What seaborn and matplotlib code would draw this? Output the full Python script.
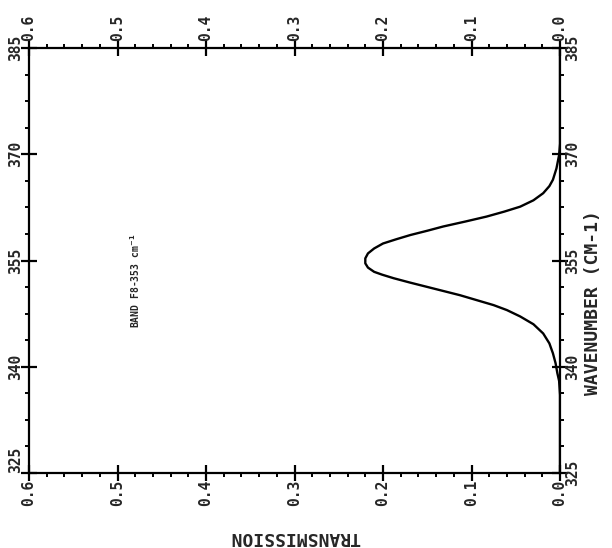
import matplotlib
matplotlib.use("Agg")
import matplotlib.pyplot as plt
from matplotlib.ticker import AutoMinorLocator, FormatStrFormatter
import seaborn as sns
import pandas as pd

# band profile (wavenumber in cm-1, transmission)
wavenumber = [325.0, 336.0, 338.0, 339.1, 340.5, 341.9, 343.3, 344.7, 346.0, 347.1,
              348.0, 348.7, 349.4, 350.1, 350.7, 351.3, 351.9, 352.5, 353.0, 353.4,
              354.0, 354.6, 355.3, 356.0, 356.7, 357.4, 358.0, 358.6, 359.2, 359.8,
              360.5, 361.2, 361.9, 362.6, 363.5, 364.5, 365.5, 366.4, 368.0, 369.9,
              371.5, 385.0]
transmission = [0.0, 0.0, 0.001, 0.003, 0.005, 0.008, 0.012, 0.019, 0.030, 0.045,
                0.060, 0.075, 0.094, 0.113, 0.132, 0.151, 0.170, 0.188, 0.201, 0.210,
                0.217, 0.220, 0.220, 0.217, 0.210, 0.200, 0.185, 0.169, 0.150, 0.132,
                0.107, 0.083, 0.063, 0.045, 0.030, 0.019, 0.012, 0.008, 0.004, 0.001,
                0.0, 0.0]

trans_ticks = [0.0, 0.1, 0.2, 0.3, 0.4, 0.5, 0.6]
wn_ticks = [325, 340, 355, 370, 385]
band_label = "BAND F8-353 cm$^{-1}$"

df = pd.DataFrame({"wn": wavenumber, "t": transmission})

sns.set_style("white")
plt.rcParams["font.family"] = ["DejaVu Sans Mono", "DejaVu Sans"]
plt.rcParams["font.weight"] = "bold"

fig = plt.figure(figsize=(6.12, 5.48), dpi=100)
ax = fig.add_axes([29 / 612, 1 - 473 / 548, 531 / 612, 425 / 548])

sns.lineplot(data=df, x="t", y="wn", sort=False, estimator=None,
             color="black", linewidth=1.7, ax=ax)

ax.set_xlim(0.6, 0.0)
ax.set_ylim(325, 385)
ax.set_xticks(trans_ticks)
ax.set_yticks(wn_ticks)
ax.xaxis.set_major_formatter(FormatStrFormatter("%.1f"))
ax.xaxis.set_minor_locator(AutoMinorLocator(5))
ax.yaxis.set_minor_locator(AutoMinorLocator(4))

for s in ax.spines.values():
    s.set_color("black")
    s.set_linewidth(1.6)

ax.tick_params(which="major", direction="inout", length=12, width=1.6,
               color="black", top=True, right=True, bottom=True, left=True,
               labeltop=True, labelright=True, labelsize=10.5)
ax.tick_params(which="minor", direction="out", length=3, width=1.4,
               color="black", top=True, right=True, bottom=True, left=True)
ax.tick_params(axis="x", which="major", pad=-1, labelrotation=90)
ax.tick_params(axis="y", which="major", pad=-2, labelrotation=90)
for lab in ax.get_yticklabels():
    lab.set_va("center")
# the lower-left wavenumber label sits just above the corner
ax.get_yticklabels()[0].set_va("bottom")

ax.set_xlabel("")
ax.set_ylabel("")

ax.text(0.48, 345.5, band_label, rotation=90, ha="center", va="bottom",
        fontsize=7, fontweight="bold")

fig.text(295 / 612, 1 - 537 / 548, "TRANSMISSION", rotation=180,
         ha="center", va="center", fontsize=13, fontweight="bold")
fig.text(593 / 612, 1 - 303 / 548, "WAVENUMBER (CM-1)", rotation=90,
         ha="center", va="center", fontsize=13, fontweight="bold")

fig.savefig("out.png", dpi=100, facecolor="white")
